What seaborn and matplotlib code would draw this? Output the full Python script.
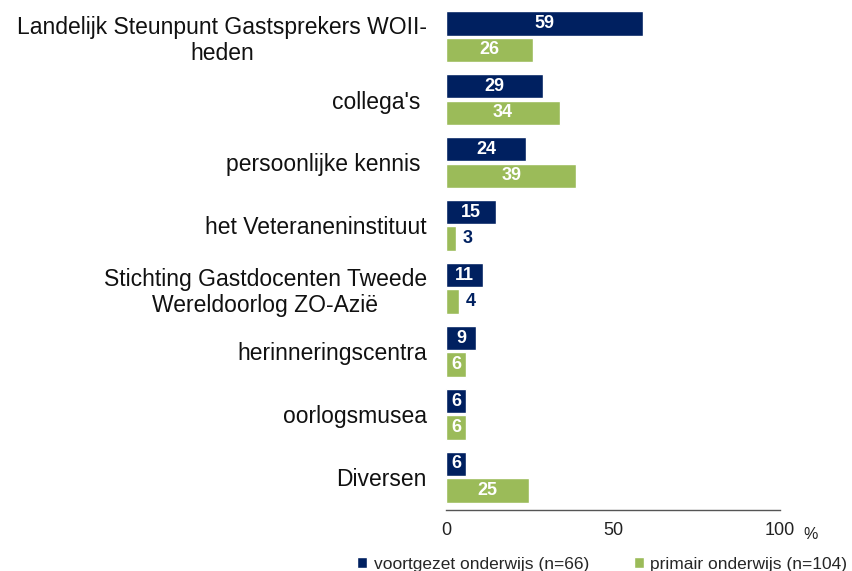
import matplotlib
matplotlib.use("Agg")
import matplotlib.pyplot as plt
import seaborn as sns
import pandas as pd

categories = [
    "Landelijk Steunpunt Gastsprekers WOII-\nheden",
    "collega's ",
    "persoonlijke kennis ",
    "het Veteraneninstituut",
    "Stichting Gastdocenten Tweede\nWereldoorlog ZO-Azië",
    "herinneringscentra",
    "oorlogsmusea",
    "Diversen",
]
series_names = ["voortgezet onderwijs (n=66)", "primair onderwijs (n=104)"]
vo_values = [59, 29, 24, 15, 11, 9, 6, 6]
po_values = [26, 34, 39, 3, 4, 6, 6, 25]
xticks = [0, 50, 100]
xtick_labels = ["0", "50", "100"]

navy = "#002060"
green = "#9BBB59"

sns.set_theme(style="white")
plt.rcParams["font.family"] = ["Liberation Sans", "DejaVu Sans"]

df = pd.DataFrame({
    "category": categories * 2,
    "value": vo_values + po_values,
    "series": [series_names[0]] * len(categories) + [series_names[1]] * len(categories),
})

fig = plt.figure(figsize=(8.53, 5.71), dpi=100)
ax = fig.add_axes([0.523, 0.107, 0.391, 0.884])

sns.barplot(data=df, y="category", x="value", hue="series", orient="h",
            palette=[navy, green], width=0.84, gap=0.08, saturation=1,
            ax=ax, errorbar=None)

ax.set_xlim(0, 100)
ax.set_ylim(7.52, -0.5)
ax.set_xticks(xticks)
ax.set_xticklabels(xtick_labels, fontsize=13, color="#222222")
ax.set_xlabel("")
ax.set_ylabel("")
ax.tick_params(axis="x", direction="in", length=5, width=1, color="#555555", pad=9)
ax.tick_params(axis="y", length=0, pad=13.8)
for lab in ax.get_yticklabels():
    lab.set_fontsize(16.5)
    lab.set_multialignment("center")
    lab.set_color("#111111")
    lab.set_linespacing(1.15)

for side in ["top", "right", "left"]:
    ax.spines[side].set_visible(False)
ax.spines["bottom"].set_color("#555555")
ax.spines["bottom"].set_linewidth(1)

ax.text(1.093, -0.048, "%", transform=ax.transAxes, fontsize=11.5, color="#222222",
        ha="center", va="center")

# bar value labels
for container in ax.containers:
    for patch in container:
        w = patch.get_width()
        y = patch.get_y() + patch.get_height() / 2
        if w >= 5:
            ax.text(w / 2, y, f"{w:.0f}", ha="center", va="center",
                    color="white", fontsize=13, fontweight="bold")
        else:
            ax.text(w + 2.0, y, f"{w:.0f}", ha="left", va="center",
                    color=navy, fontsize=13, fontweight="bold")

sns.move_legend(ax, "center", bbox_to_anchor=(0.706, 0.012),
                bbox_transform=fig.transFigure, ncol=2, frameon=False, title=None,
                handlelength=0.6, handleheight=0.6, handletextpad=0.35,
                columnspacing=2.6, fontsize=12.5)

fig.savefig("out.png", dpi=100)
